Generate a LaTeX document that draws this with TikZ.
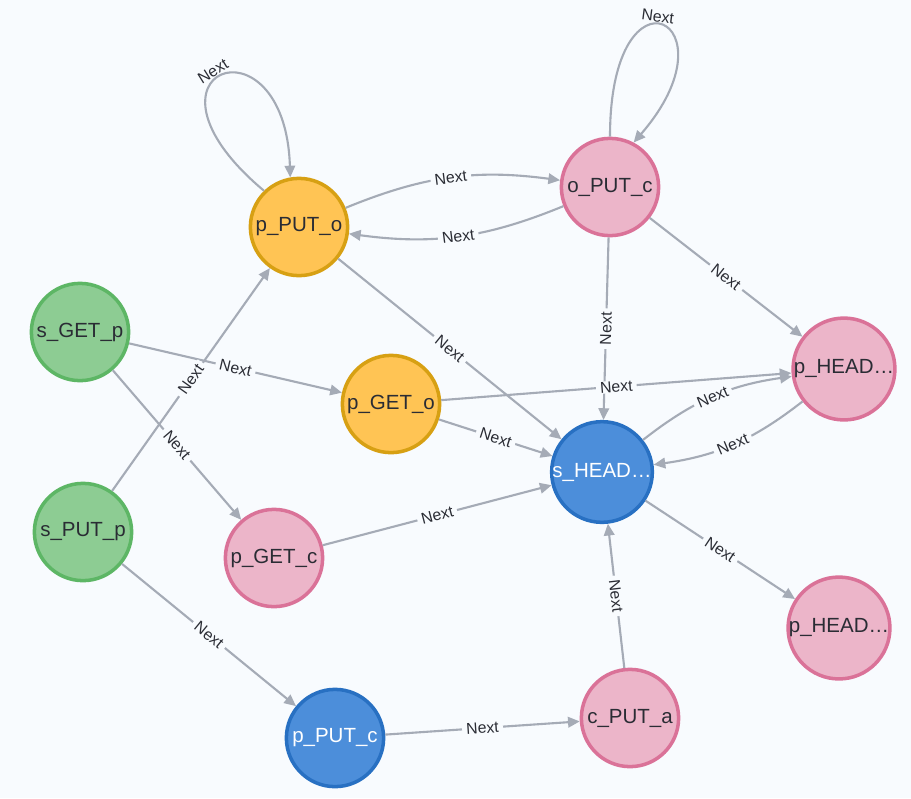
\documentclass[tikz,border=0pt]{standalone}
\usepackage{fontspec}
\setmainfont{Liberation Sans}
\usetikzlibrary{arrows.meta}

\definecolor{bgcol}{HTML}{F8FBFE}
\definecolor{edgecol}{HTML}{A5ABB6}
\definecolor{txtcol}{HTML}{2A2C34}
\definecolor{ylwfill}{HTML}{FFC454}
\definecolor{ylwline}{HTML}{D7A013}
\definecolor{pinkfill}{HTML}{ECB5C9}
\definecolor{pinkline}{HTML}{DA7298}
\definecolor{grnfill}{HTML}{8DCC93}
\definecolor{grnline}{HTML}{5DB665}
\definecolor{bluefill}{HTML}{4C8EDA}
\definecolor{blueline}{HTML}{2870C2}

\tikzset{
  state/.style={circle, draw, line width=3pt, minimum size=83pt, inner sep=0pt,
    font=\fontsize{17.5}{19}\selectfont, text=txtcol},
  ylw/.style={state, fill=ylwfill, draw=ylwline},
  pink/.style={state, fill=pinkfill, draw=pinkline},
  grn/.style={state, fill=grnfill, draw=grnline},
  blu/.style={state, fill=bluefill, draw=blueline, text=white},
  next/.style={draw=edgecol, line width=1.8pt, -{Triangle[length=10pt,width=9pt]}},
  lbl/.style={fill=bgcol, inner xsep=3.5pt, inner ysep=0.5pt, sloped,
    font=\fontsize{13.5}{14}\selectfont, text=txtcol},
  looplbl/.style={inner sep=1pt, sloped, font=\fontsize{13.5}{14}\selectfont, text=txtcol}
}

\begin{document}
\begin{tikzpicture}[x=0.03cm, y=0.03cm]
      \fill[bgcol] (0,0) rectangle (911,-798);
      \useasboundingbox (0,0) rectangle (911,-798);

      % Set up nodes
      \node[ylw]  (pPUTo)  at (299,-227) {p\_PUT\_o};
      \node[pink] (oPUTc)  at (610,-187) {o\_PUT\_c};
      \node[grn]  (sGETp)  at (80,-332)  {s\_GET\_p};
      \node[ylw]  (pGETo)  at (391,-404) {p\_GET\_o};
      \node[pink] (pHEADa) at (844,-369) {p\_HEAD…};
      \node[blu]  (sHEAD)  at (602,-472) {s\_HEAD…};
      \node[grn]  (sPUTp)  at (83,-532)  {s\_PUT\_p};
      \node[pink] (pGETc)  at (274,-558) {p\_GET\_c};
      \node[pink] (pHEADb) at (839,-628) {p\_HEAD…};
      \node[blu]  (pPUTc)  at (335,-738) {p\_PUT\_c};
      \node[pink] (cPUTa)  at (630,-718) {c\_PUT\_a};

      % Self loops
      \draw[next] (pPUTo.134) .. controls (120,-70) and (285,-10) ..
        node[looplbl, pos=0.47, above] {Next} (pPUTo.100);
      \draw[next] (oPUTc.90) .. controls (610,45) and (740,-20) ..
        node[looplbl, pos=0.46, above] {Next} (oPUTc.62);

      % Draw edges with labels
      \draw[next] (pPUTo) to[bend left=15] node[lbl] {Next} (oPUTc);
      \draw[next] (oPUTc) to[bend left=15] node[lbl] {Next} (pPUTo);
      \draw[next] (pPUTo) -- node[lbl] {Next} (sHEAD);
      \draw[next] (oPUTc) -- node[lbl] {Next} (sHEAD);
      \draw[next] (oPUTc) -- node[lbl] {Next} (pHEADa);
      \draw[next] (sGETp) -- node[lbl] {Next} (pGETo);
      \draw[next] (sGETp) -- node[lbl] {Next} (pGETc);
      \draw[next] (sPUTp) -- node[lbl] {Next} (pPUTo);
      \draw[next] (sPUTp) -- node[lbl] {Next} (pPUTc);
      \draw[next] (pGETo) -- node[lbl] {Next} (pHEADa);
      \draw[next] (pGETo) -- node[lbl] {Next} (sHEAD);
      \draw[next] (sHEAD) to[bend left=15] node[lbl] {Next} (pHEADa);
      \draw[next] (pHEADa) to[bend left=15] node[lbl] {Next} (sHEAD);
      \draw[next] (pGETc) -- node[lbl] {Next} (sHEAD);
      \draw[next] (sHEAD) -- node[lbl] {Next} (pHEADb);
      \draw[next] (cPUTa) -- node[lbl] {Next} (sHEAD);
      \draw[next] (pPUTc) -- node[lbl] {Next} (cPUTa);

    \end{tikzpicture}
\end{document}
